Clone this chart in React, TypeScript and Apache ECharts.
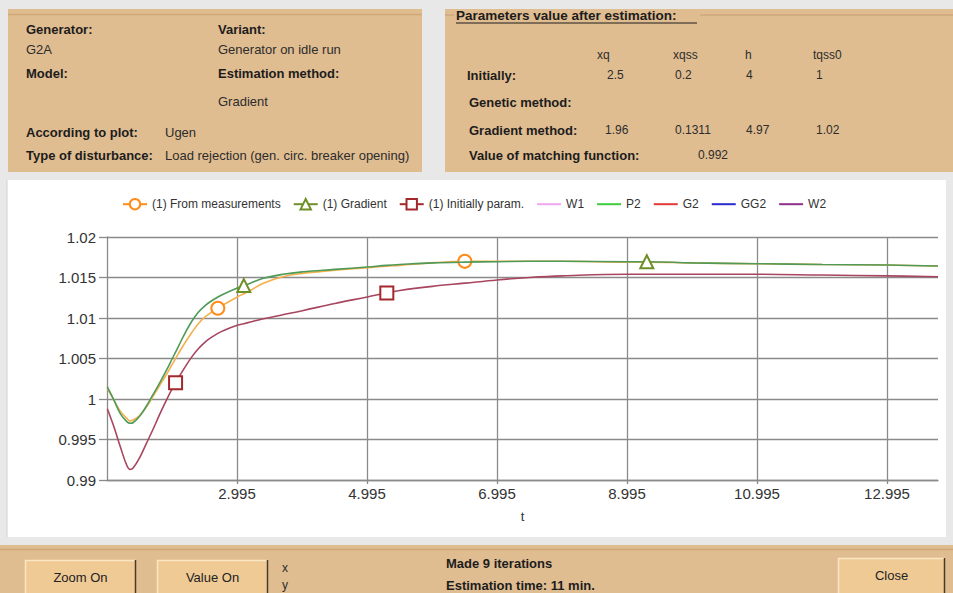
import React, { useEffect, useRef } from 'react';
import * as echarts from 'echarts';

// ---- data ----
const timeS = [1.0, 1.1, 1.2, 1.3, 1.35, 1.4, 1.5, 1.6, 1.7, 1.8, 1.9, 2.0, 2.05, 2.1, 2.2, 2.3, 2.4, 2.5, 2.6, 2.7, 2.8, 3.0, 3.1, 3.2, 3.4, 3.7, 4.0, 4.5, 5.0, 5.3, 5.5, 6.0, 6.5, 7.0, 7.5, 8.0, 9.0, 9.3, 10.0, 11.0, 12.0, 13.0, 13.78];
const fromMeasurements = [1.0013, 0.9999, 0.9985, 0.9976, 0.9973, 0.9974, 0.998, 0.999, 1.0003, 1.0016, 1.0029, 1.0043, 1.005, 1.0057, 1.007, 1.0082, 1.0093, 1.0101, 1.0107, 1.0112, 1.0117, 1.0126, 1.013, 1.0134, 1.0143, 1.0151, 1.0155, 1.0159, 1.0162, 1.0164, 1.0165, 1.0168, 1.017, 1.017, 1.017, 1.017, 1.0169, 1.0169, 1.0168, 1.0167, 1.0166, 1.01655, 1.0164];
const gradientFit = [1.0015, 0.9999, 0.9982, 0.9972, 0.997, 0.9971, 0.9979, 0.9991, 1.0005, 1.0019, 1.0034, 1.005, 1.0058, 1.0066, 1.0082, 1.0096, 1.0107, 1.0115, 1.0121, 1.0126, 1.013, 1.0137, 1.014, 1.0143, 1.0149, 1.0154, 1.0157, 1.016, 1.0163, 1.0165, 1.0166, 1.0168, 1.0169, 1.01695, 1.017, 1.017, 1.01695, 1.01695, 1.0168, 1.0167, 1.0166, 1.01655, 1.01642];
const initialParams = [0.9988, 0.9966, 0.9941, 0.9918, 0.9913, 0.9915, 0.9928, 0.9945, 0.9962, 0.998, 0.9997, 1.0013, 1.002, 1.0027, 1.004, 1.0052, 1.0062, 1.007, 1.0076, 1.0081, 1.0085, 1.0091, 1.0093, 1.0095, 1.0099, 1.0104, 1.0109, 1.0118, 1.0126, 1.0131, 1.0134, 1.0139, 1.0143, 1.0147, 1.015, 1.0152, 1.0154, 1.0154, 1.0154, 1.0154, 1.0153, 1.0152, 1.0151];
const measurementMarkers = [2.7, 6.5];
const gradientMarkers = [3.1, 9.3];
const initialMarkers = [2.05, 5.3];
const xTickValues = [2.995, 4.995, 6.995, 8.995, 10.995, 12.995];

const mainNames = ['(1) From measurements', '(1) Gradient', '(1) Initially param.'];
const extraNames = ['W1', 'P2', 'G2', 'GG2', 'W2'];
const extraColors = ['#f0a6f0', '#3ccc3c', '#e23a3a', '#2a2ad0', '#8e2f8e'];

const paramHeaders = ['xq', 'xqss', 'h', 'tqss0'];
const initialValues = ['2.5', '0.2', '4', '1'];
const gradientValues = ['1.96', '0.1311', '4.97', '1.02'];
const matchingValue = '0.992';

const FONT = "Arial, 'Liberation Sans', Helvetica, sans-serif";
const TAN = '#e0bd91';
const GRAY = '#e8e8e8';

function label(x: number, y: number, text: string, size = 13, bold = false, align = 'left', color?: string) {
  return {
    type: 'text', x, y, silent: true,
    style: {
      text, fontSize: size, fontWeight: bold ? 'bold' : 'normal', fontFamily: FONT,
      fill: color || (bold ? '#1c1c1c' : '#2c2c2c'), align, verticalAlign: 'middle',
    },
  };
}
function rect(x: number, y: number, w: number, h: number, fill: string, stroke?: string) {
  return { type: 'rect', silent: true, shape: { x, y, width: w, height: h }, style: { fill, stroke: stroke || 'none', lineWidth: 1 } };
}
function hline(x1: number, x2: number, y: number, color: string, w = 1) {
  return { type: 'line', silent: true, shape: { x1, y1: y, x2, y2: y }, style: { stroke: color, lineWidth: w } };
}
function vline(x: number, y1: number, y2: number, color: string, w = 1) {
  return { type: 'line', silent: true, shape: { x1: x, y1, x2: x, y2 }, style: { stroke: color, lineWidth: w } };
}
function button(x: number, y: number, w: number, text: string) {
  return [
    rect(x, y, w, 40, '#efca95'),
    hline(x, x + w, y + 0.5, '#fbe6c4', 1.5),
    vline(x + 0.5, y, y + 40, '#fbe6c4', 1.5),
    vline(x + w - 0.5, y, y + 40, '#4a3a28', 1.5),
    label(x + w / 2, y + 17, text, 13, false, 'center', '#222'),
  ];
}

function buildData(vals: number[], markers: number[]) {
  return timeS.map((t, i) => (markers.indexOf(t) >= 0 ? [t, vals[i]] : { value: [t, vals[i]], symbol: 'none' }));
}

export default function App() {
  const ref = useRef<HTMLDivElement>(null);
  useEffect(() => {
    if (!ref.current) return;
    const chart = echarts.init(ref.current, null, { renderer: 'svg' });

    const graphics: any[] = [
      rect(0, 0, 953, 180, GRAY),
      rect(0, 0, 7, 593, GRAY),
      rect(946, 0, 7, 593, GRAY),
      rect(0, 537, 953, 56, GRAY),
      vline(7, 180, 537, '#d0d0d0', 1),
      // left info panel
      rect(8, 9, 414, 163, TAN),
      hline(8, 422, 14.5, '#cfa877', 1.5),
      label(26, 29, 'Generator:', 13, true),
      label(26, 49, 'G2A'),
      label(26, 73, 'Model:', 13, true),
      label(218, 29, 'Variant:', 13, true),
      label(218, 49, 'Generator on idle run'),
      label(218, 73, 'Estimation method:', 13, true),
      label(218, 101, 'Gradient'),
      label(26, 132, 'According to plot:', 13, true),
      label(165, 132, 'Ugen'),
      label(26, 155, 'Type of disturbance:', 13, true),
      label(165, 155, 'Load rejection (gen. circ. breaker opening)'),
      // right parameters panel
      rect(445, 9, 508, 163, TAN),
      hline(700, 953, 15, '#cfa877', 1.5),
      hline(445, 454, 15, '#cfa877', 1.5),
      label(456, 15, 'Parameters value after estimation:', 13.5, true),
      hline(456, 697, 23, '#1c1c1c', 1),
      label(467, 75, 'Initially:', 13, true),
      label(469, 102, 'Genetic method:', 13, true),
      label(469, 130, 'Gradient method:', 13, true),
      label(469, 155, 'Value of matching function:', 13, true),
      label(698, 155, matchingValue, 12),
      // bottom bar
      rect(0, 545, 953, 48, TAN),
      hline(0, 953, 549.5, '#cfa877', 1.5),
      ...button(25, 560, 111, 'Zoom On'),
      ...button(157, 560, 111, 'Value On'),
      ...button(838, 558, 107, 'Close'),
      label(282, 568, 'x', 12),
      label(282, 585, 'y', 12),
      label(446, 563, 'Made 9 iterations', 13, true),
      label(446, 585, 'Estimation time: 11 min.', 13, true),
    ];
    const colX = [597, 673, 745, 813];
    const valX = [607, 675, 746, 816];
    paramHeaders.forEach((h, i) => graphics.push(label(colX[i], 55, h, 12)));
    initialValues.forEach((v, i) => graphics.push(label(valX[i], 75, v, 12)));
    gradientValues.forEach((v, i) => graphics.push(label(i === 0 ? 605 : valX[i], 130, v, 12)));

    const axisGray = '#8a8a8a';
    const series: any[] = [
      {
        name: mainNames[2], type: 'line', data: buildData(initialParams, initialMarkers), smooth: 0.4,
        symbol: 'emptyRect', symbolSize: 13, showAllSymbol: true, z: 3,
        lineStyle: { color: '#a8465f', width: 1.6 }, itemStyle: { color: '#a3282c', borderWidth: 1.6 },
      },
      {
        name: mainNames[0], type: 'line', data: buildData(fromMeasurements, measurementMarkers), smooth: 0.4,
        symbol: 'emptyCircle', symbolSize: 13, showAllSymbol: true, z: 4,
        lineStyle: { color: '#f4b04c', width: 1.6 }, itemStyle: { color: '#ff8c1a', borderWidth: 1.6 },
      },
      {
        name: mainNames[1], type: 'line', data: buildData(gradientFit, gradientMarkers), smooth: 0.4,
        symbol: 'emptyTriangle', symbolSize: 13, showAllSymbol: true, z: 5,
        lineStyle: { color: '#4f9a58', width: 1.6 }, itemStyle: { color: '#6e8f26', borderWidth: 1.6 },
      },
    ];
    extraNames.forEach((n, i) => series.push({
      name: n, type: 'line', data: [], symbol: 'none',
      lineStyle: { color: extraColors[i], width: 1.6 }, itemStyle: { color: extraColors[i] },
    }));

    chart.setOption({
      animation: false,
      backgroundColor: '#ffffff',
      textStyle: { fontFamily: FONT },
      graphic: { elements: graphics },
      legend: {
        top: 193, left: 117, itemWidth: 24, itemHeight: 13, itemGap: 12,
        textStyle: { fontSize: 12, color: '#333', fontFamily: FONT },
        data: [
          { name: mainNames[0], itemStyle: { color: '#ff8c1a' }, lineStyle: { color: '#ff8c1a' } },
          { name: mainNames[1], itemStyle: { color: '#6e8f26' }, lineStyle: { color: '#6e8f26' } },
          { name: mainNames[2], itemStyle: { color: '#a3282c' }, lineStyle: { color: '#a3282c' } },
          ...extraNames.map((n) => ({ name: n, itemStyle: { opacity: 0 } })),
        ],
      },
      grid: { left: 107, right: 15, top: 237, bottom: 113, containLabel: false },
      xAxis: {
        type: 'value', min: 0.995, max: 13.78,
        name: 't', nameLocation: 'middle', nameGap: 30,
        nameTextStyle: { fontSize: 13, color: '#333' },
        axisLine: { show: true, lineStyle: { color: axisGray, width: 1.3 } },
        axisTick: { show: true, length: 4, customValues: xTickValues, lineStyle: { color: axisGray, width: 1.3 } },
        splitLine: { show: true, lineStyle: { color: axisGray, width: 1.3 } },
        axisLabel: {
          fontSize: 15, color: '#333', margin: 6, customValues: xTickValues,
          formatter: (v: number) => v.toFixed(3),
        },
      },
      yAxis: {
        type: 'value', min: 0.99, max: 1.02, interval: 0.005,
        axisLine: { show: true, lineStyle: { color: axisGray, width: 1.3 } },
        axisTick: { show: true, length: 8, lineStyle: { color: axisGray, width: 1.3 } },
        splitLine: { show: true, lineStyle: { color: axisGray, width: 1.3 } },
        axisLabel: {
          fontSize: 15, color: '#333', margin: 11,
          formatter: (v: number) => String(parseFloat(v.toFixed(3))),
        },
      },
      series,
    });
    return () => chart.dispose();
  }, []);

  return <div ref={ref} style={{ position: 'fixed', left: 0, top: 0, width: 953, height: 593 }} />;
}
